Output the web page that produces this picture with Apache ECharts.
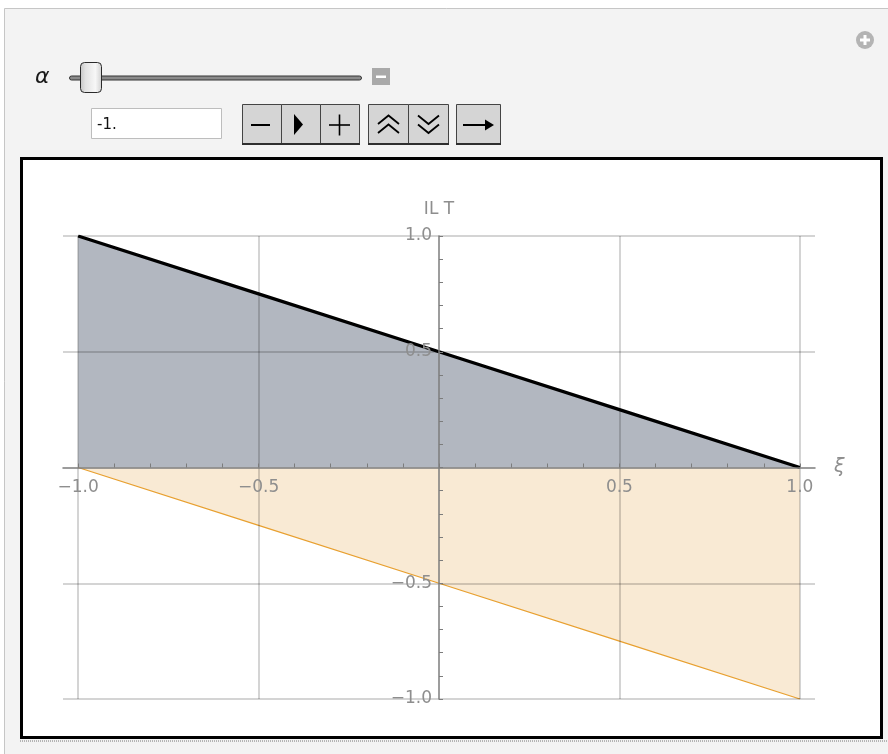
<!DOCTYPE html>
<html>
<head>
<meta charset="utf-8">
<script src="https://cdn.jsdelivr.net/npm/echarts@6/dist/echarts.min.js"></script>
<style>
html,body{margin:0;padding:0;background:#fff;}
#c{width:888px;height:754px;}
</style>
</head>
<body>
<div id="c"></div>
<script>
// ---- data ----
const xi = [-1, -0.5, 0, 0.5, 1];
const iltUpper = [1, 0.75, 0.5, 0.25, 0];
const iltLower = [0, -0.25, -0.5, -0.75, -1];
const gridXValues = [-1, -0.5, 0.5, 1];
const gridYValues = [-1, -0.5, 0.5, 1];
const xTickValues = [-1, -0.9, -0.8, -0.7, -0.6, -0.5, -0.4, -0.3, -0.2, -0.1, 0, 0.1, 0.2, 0.3, 0.4, 0.5, 0.6, 0.7, 0.8, 0.9, 1];
const yTickValues = [-1, -0.9, -0.8, -0.7, -0.6, -0.5, -0.4, -0.3, -0.2, -0.1, 0, 0.1, 0.2, 0.3, 0.4, 0.5, 0.6, 0.7, 0.8, 0.9, 1];
const xLabelValues = [-1, -0.5, 0.5, 1];
const yLabelValues = [-1, -0.5, 0.5, 1];
const alphaValueText = '-1.';

function fmt(v) {
  const s = Math.abs(v).toFixed(1);
  return v < 0 ? '\u2212' + s : s;
}

const axisColor = '#7c7c7c';
const labelColor = '#8e8e8e';
const font = 'DejaVu Sans';

// plot area and axis ranges
const gridBox = {left: 63, right: 73, top: 236, bottom: 55};
const xMin = -1.042, xMax = 1.042, yMin = -1, yMax = 1;
const W = 888, H = 754;
const plotW = W - gridBox.left - gridBox.right;
const plotH = H - gridBox.top - gridBox.bottom;
// axes cross at the origin: shift each axis from its grid edge to the zero line
const yAxisOffset = -((0 - xMin) / (xMax - xMin)) * plotW;
const xAxisOffset = -((0 - yMin) / (yMax - yMin)) * plotH;

const chart = echarts.init(document.getElementById('c'), null, {renderer: 'canvas', width: W, height: H});

const markData = gridXValues.map(v => ({xAxis: v})).concat(gridYValues.map(v => ({yAxis: v})));

// ---- controls (graphic) ----
const btnFill = '#d5d5d5';
const btnStroke = '#444';
function cell(x, y, w, h) {
  return {type: 'rect', shape: {x: x, y: y, width: w, height: h}, style: {fill: btnFill, stroke: btnStroke, lineWidth: 1}, z: 2};
}
function pl(points, w) {
  return {type: 'polyline', shape: {points: points}, style: {stroke: '#000', lineWidth: w || 1.6, fill: null}, z: 3};
}
function pg(points) {
  return {type: 'polygon', shape: {points: points}, style: {fill: '#000'}, z: 3};
}
function shadow(x1, x2, y) {
  return {type: 'line', shape: {x1: x1, y1: y, x2: x2, y2: y}, style: {stroke: '#2e2e2e', lineWidth: 2}, z: 3};
}

const graphics = [
  // panel
  {type: 'rect', shape: {x: 4.5, y: 8.5, width: 900, height: 800}, style: {fill: '#f3f3f3', stroke: '#c6c6c6', lineWidth: 1}, z: 0},
  // plus icon
  {type: 'circle', shape: {cx: 865, cy: 40, r: 9}, style: {fill: '#b4b4b4'}, z: 1},
  {type: 'rect', shape: {x: 860, y: 38.5, width: 10, height: 3}, style: {fill: '#fff'}, z: 2},
  {type: 'rect', shape: {x: 863.5, y: 35, width: 3, height: 10}, style: {fill: '#fff'}, z: 2},
  // alpha label
  {type: 'text', x: 35, y: 77, style: {text: 'α', font: 'italic 22px "DejaVu Sans"', fill: '#1a1a1a', verticalAlign: 'middle', align: 'left'}, z: 2},
  // slider track
  {type: 'rect', shape: {x: 69.5, y: 76, width: 292, height: 4, r: 2}, style: {fill: '#8a8a8a', stroke: '#333', lineWidth: 1}, z: 1},
  // slider thumb
  {type: 'rect', shape: {x: 80.5, y: 62.5, width: 21, height: 30, r: 4},
   style: {fill: new echarts.graphic.LinearGradient(0, 0, 1, 0, [
      {offset: 0, color: '#c4c4c4'}, {offset: 0.25, color: '#e2e2e2'}, {offset: 0.7, color: '#f7f7f7'}, {offset: 1, color: '#cfcfcf'}]),
     stroke: '#2a2a2a', lineWidth: 1}, z: 2},
  // small minus square
  {type: 'rect', shape: {x: 372, y: 68, width: 18, height: 17}, style: {fill: '#a9a9a9'}, z: 1},
  {type: 'rect', shape: {x: 376, y: 75.5, width: 10, height: 2.5}, style: {fill: '#fff'}, z: 2},
  // input field
  {type: 'rect', shape: {x: 91.5, y: 108.5, width: 130, height: 30}, style: {fill: '#fff', stroke: '#bdbdbd', lineWidth: 1}, z: 1},
  {type: 'text', x: 97, y: 125, style: {text: alphaValueText, font: '15px "DejaVu Sans"', fill: '#111', verticalAlign: 'middle', align: 'left'}, z: 2},
  // button group 1
  cell(242.5, 104.5, 39, 39), cell(281.5, 104.5, 39, 39), cell(320.5, 104.5, 39, 39),
  shadow(242, 360, 144),
  pl([[251, 125], [270, 125]], 2),
  pg([[294, 114], [303, 124.5], [294, 135]]),
  pl([[329, 125], [350, 125]], 1.6), pl([[339.5, 114.5], [339.5, 135.5]], 1.6),
  // button group 2
  cell(368.5, 104.5, 40, 39), cell(408.5, 104.5, 40, 39),
  shadow(368, 449, 144),
  pl([[378, 124], [388.5, 115.5], [399, 124]], 1.8), pl([[378, 133], [388.5, 124.5], [399, 133]], 1.8),
  pl([[418, 115.5], [428.5, 124], [439, 115.5]], 1.8), pl([[418, 124.5], [428.5, 133], [439, 124.5]], 1.8),
  // button group 3
  cell(456.5, 104.5, 44, 39),
  shadow(456, 501, 144),
  pl([[463, 125], [489, 125]], 2),
  pg([[485, 119.5], [494, 125], [485, 130.5]]),
  // plot frame
  {type: 'rect', shape: {x: 21.5, y: 158.5, width: 860, height: 579}, style: {fill: '#fff', stroke: '#000', lineWidth: 3}, z: 1},
  {type: 'line', shape: {x1: 20, y1: 741, x2: 888, y2: 741}, style: {stroke: '#777', lineWidth: 1, lineDash: [1, 1]}, z: 1}
];

const option = {
  backgroundColor: '#ffffff',
  animation: false,
  graphic: {elements: graphics},
  grid: gridBox,
  xAxis: {
    type: 'value', min: xMin, max: xMax, z: 10,
    position: 'bottom', offset: xAxisOffset,
    name: 'ξ', nameLocation: 'end', nameGap: 19,
    nameTextStyle: {color: labelColor, fontSize: 19, fontStyle: 'italic', fontFamily: font, verticalAlign: 'middle'},
    axisLine: {onZero: false, lineStyle: {color: axisColor, width: 1.5}},
    axisTick: {show: true, inside: true, length: 4, customValues: xTickValues, lineStyle: {color: axisColor, width: 1}},
    axisLabel: {customValues: xLabelValues, formatter: fmt, margin: 12, color: labelColor, fontSize: 17, fontFamily: font},
    splitLine: {show: false}
  },
  yAxis: {
    type: 'value', min: yMin, max: yMax, z: 10,
    position: 'left', offset: yAxisOffset,
    name: 'IL T', nameLocation: 'end', nameGap: 18,
    nameTextStyle: {color: labelColor, fontSize: 17, fontFamily: font},
    axisLine: {onZero: false, lineStyle: {color: axisColor, width: 1.5}},
    axisTick: {show: true, inside: true, length: 4, customValues: yTickValues, lineStyle: {color: axisColor, width: 1}},
    axisLabel: {customValues: yLabelValues, formatter: fmt, margin: 7, color: labelColor, fontSize: 17, fontFamily: font},
    splitLine: {show: false}
  },
  series: [
    {
      type: 'line', name: 'ILT', symbol: 'none', z: 3,
      data: xi.map((x, i) => [x, iltUpper[i]]),
      lineStyle: {color: '#000', width: 3.2},
      areaStyle: {color: 'rgb(178,183,192)', opacity: 1}
    },
    {
      type: 'line', name: 'lower', symbol: 'none', z: 2,
      data: xi.map((x, i) => [x, iltLower[i]]),
      lineStyle: {color: '#e8a030', width: 1.3},
      areaStyle: {color: 'rgb(249,234,212)', opacity: 1},
      markLine: {
        silent: true, symbol: 'none', label: {show: false}, animation: false,
        lineStyle: {color: 'rgba(0,0,0,0.17)', width: 2, type: 'solid'},
        emphasis: {disabled: true},
        data: markData
      }
    }
  ]
};
chart.setOption(option);
</script>
</body>
</html>
